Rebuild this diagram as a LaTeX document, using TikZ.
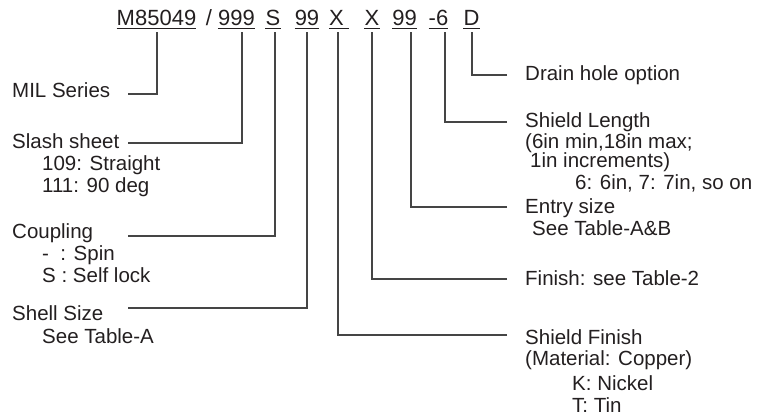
\documentclass[tikz,border=0pt]{standalone}
\usepackage{fontspec}
\setmainfont{Liberation Sans}
\usetikzlibrary{positioning}
\definecolor{inkgray}{HTML}{231F20}
\definecolor{leadgray}{HTML}{454545}
\newcommand{\codefont}{\fontsize{22}{24}\selectfont}
\newcommand{\partfont}{\fontsize{20.5}{22}\selectfont}

\begin{document}
\begin{tikzpicture}[x=1pt,y=-1pt,
  part/.style={font=\codefont,text=inkgray,inner sep=0pt,anchor=base},
  lbl/.style={font=\partfont,text=inkgray,inner sep=0pt,anchor=base west},
  lead/.style={line width=1.3pt,color=leadgray},
  uline/.style={line width=1.2pt,color=inkgray}]
\useasboundingbox (0,0) rectangle (766,420);
%part number
\node[part] (nM) at (156.5,26) {M85049};
\node[part] (nSep) at (209,26) {/};
\node[part] (nSlash) at (236.5,26) {999};
\node[part] (nCoup) at (273,26) {S};
\node[part] (nShell) at (307,26) {99};
\node[part] (nShield) at (336.5,26) {X};
\node[part] (nFin) at (372,26) {X};
\node[part] (nEntry) at (404.5,26) {99};
\node[part] (nLen) at (438.5,26) {-6};
\node[part] (nDrain) at (471.5,26) {D};
\foreach \n in {nM,nSlash,nCoup,nShell,nFin,nEntry,nLen,nDrain}
  \draw[uline] ([yshift=-2.5pt]\n.base west) -- ([yshift=-2.5pt]\n.base east);
\draw[uline] ([yshift=-2.5pt]nShield.base west) -- ([xshift=5pt,yshift=-2.5pt]nShield.base east);
%left labels
\node[lbl] (lMIL) at (12,97) {MIL Series};
\node[lbl] (lSlash) at (12,148) {Slash sheet};
\node[lbl] (lSlashA) at (42,170) {109: Straight};
\node[lbl] (lSlashB) at (42,192) {111: 90 deg};
\node[lbl] (lCoup) at (12,238) {Coupling};
\node[lbl] (lCoupA) at (42,260) {-\ \ : Spin};
\node[lbl] (lCoupB) at (42,282) {S : Self lock};
\node[lbl] (lShell) at (12,320) {Shell Size};
\node[lbl] (lShellA) at (42,343) {See Table-A};
%right labels
\node[lbl] (rDrain) at (525,81) {Drain hole option};
\node[lbl] (rLen) at (525,128) {Shield Length};
\node[lbl] (rLenA) at (525,148) {(6in min,18in max;};
\node[lbl] (rLenB) at (530,167) {1in increments)};
\node[lbl] (rLenC) at (575,189) {6: 6in, 7: 7in, so on};
\node[lbl] (rEntry) at (525,213) {Entry size};
\node[lbl] (rEntryA) at (532,235) {See Table-A\&B};
\node[lbl] (rFin) at (525,285) {Finish: see Table-2};
\node[lbl] (rShield) at (525,344) {Shield Finish};
\node[lbl] (rShieldA) at (525,365) {(Material: Copper)};
\node[lbl] (rShieldB) at (572,390) {K: Nickel};
\node[lbl] (rShieldC) at (572,412) {T: Tin};
%leader ends
\coordinate (eMIL) at (128,94);
\coordinate (eSlash) at (128,143);
\coordinate (eCoup) at (128,236);
\coordinate (eShell) at (128,308);
\coordinate (eDrain) at (507,75);
\coordinate (eLen) at (507,122);
\coordinate (eEntry) at (507,207);
\coordinate (eFin) at (507,279);
\coordinate (eShield) at (507,335);
%leaders
\draw[lead] (eMIL) -| ([xshift=0.5pt,yshift=-6pt]nM.base);
\draw[lead] (eSlash) -| ([xshift=5.5pt,yshift=-6pt]nSlash.base);
\draw[lead] (eCoup) -| ([xshift=2pt,yshift=-6pt]nCoup.base);
\draw[lead] (eShell) -| ([yshift=-6pt]nShell.base);
\draw[lead] (eShield) -| ([xshift=1.5pt,yshift=-6pt]nShield.base);
\draw[lead] (eFin) -| ([yshift=-6pt]nFin.base);
\draw[lead] (eEntry) -| ([xshift=6.5pt,yshift=-6pt]nEntry.base);
\draw[lead] (eLen) -| ([xshift=6.5pt,yshift=-6pt]nLen.base);
\draw[lead] (eDrain) -| ([xshift=0.5pt,yshift=-6pt]nDrain.base);
\end{tikzpicture}
\end{document}
